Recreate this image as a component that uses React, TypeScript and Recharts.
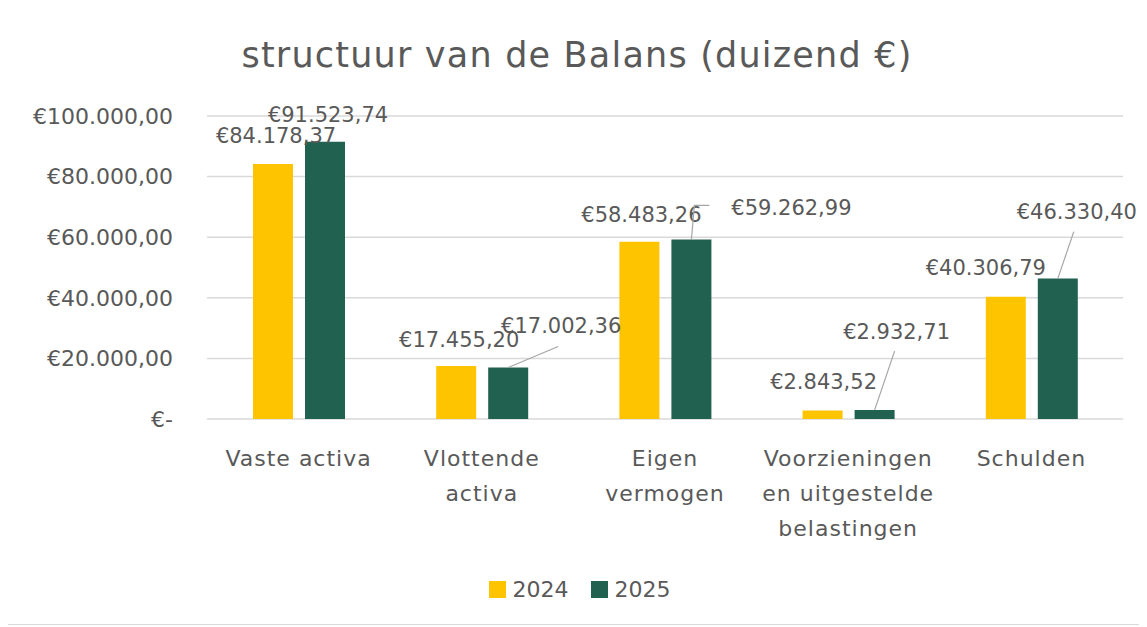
import React from "react";
import { BarChart, Bar, XAxis, YAxis, CartesianGrid, LabelList } from "recharts";

const categories: string[][] = [
  ["Vaste activa"],
  ["Vlottende", "activa"],
  ["Eigen", "vermogen"],
  ["Voorzieningen", "en uitgestelde", "belastingen"],
  ["Schulden"],
];
const values2024 = [84178.37, 17455.2, 58483.26, 2843.52, 40306.79];
const values2025 = [91523.74, 17002.36, 59262.99, 2932.71, 46330.4];
const yTicks = [0, 20000, 40000, 60000, 80000, 100000];

// label offsets relative to bar top-centre: [dx, dy, leaderEndDx, leaderEndDy, leaderHorizEnd]
const labelPos2024: number[][] = [
  [3, -28], [3, -26], [2, -27], [1, -28], [-20, -29],
];
const labelPos2025: number[][] = [
  [3, -27], [53, -41, 50, -21], [100, -31, 3, -34, 18], [22, -78, 20, -59], [19, -67, 16, -47],
];

const FONT = "'DejaVu Sans', sans-serif";
const TEXT = "#595959";
const YELLOW = "#FFC400";
const GREEN = "#216150";
const FS = 21;

const data = categories.map((c, i) => ({ name: c.join(" "), lines: c, v2024: values2024[i], v2025: values2025[i] }));

function fmt(v: number): string {
  if (v === 0) return "€-";
  const fixed = v.toFixed(2);
  const [intPart, dec] = fixed.split(".");
  const withDots = intPart.replace(/\B(?=(\d{3})+(?!\d))/g, ".");
  return "€" + withDots + "," + dec;
}

const makeLabel = (pos: number[][]) => (props: any) => {
  const { x, y, width, index, value } = props;
  const cx = Number(x) + Number(width) / 2;
  const top = Number(y);
  const p = pos[index] || [0, -28];
  return (
    <g>
      {p.length >= 4 && (
        <polyline
          points={
            `${cx},${top} ${cx + p[2]},${top + p[3]}` + (p.length >= 5 ? ` ${cx + p[4]},${top + p[3]}` : "")
          }
          fill="none"
          stroke="#A6A6A6"
          strokeWidth={1.2}
        />
      )}
      <text x={cx + p[0]} y={top + p[1]} textAnchor="middle" dominantBaseline="central" fontSize={FS} fill={TEXT} fontFamily={FONT}>
        {fmt(Number(value))}
      </text>
    </g>
  );
};

const XTick = (props: any) => {
  const { x, y, payload, index } = props;
  const lines = categories[index] || [payload.value];
  return (
    <g>
      {lines.map((l, i) => (
        <text key={i} x={x} y={y + 31 + i * 35} textAnchor="middle" dominantBaseline="central" fontSize={22} letterSpacing={1} fill={TEXT} fontFamily={FONT}>
          {l}
        </text>
      ))}
    </g>
  );
};

export default function App() {
  return (
    <div style={{ marginLeft: -1, marginTop: -3, width: 1145, height: 620, border: "1px solid #D9D9D9", boxSizing: "border-box", position: "relative", background: "#fff" }}>
      <div style={{ position: "absolute", left: 0, right: 5, top: 28, textAlign: "center", fontFamily: FONT, fontSize: 35, letterSpacing: 1.2, color: TEXT, lineHeight: "42px" }}>
        structuur van de Balans (duizend €)
      </div>
      <BarChart width={1140} height={618} data={data} margin={{ top: 110, right: 25, bottom: 175, left: 0 }} barCategoryGap={45} barGap={12} barSize={40}>
        <CartesianGrid vertical={false} stroke="#D9D9D9" strokeWidth={1.5} />
        <XAxis dataKey="name" tick={<XTick />} tickLine={false} axisLine={false} interval={0} height={30} />
        <YAxis
          domain={[0, 100000]}
          ticks={yTicks}
          width={199}
          tickFormatter={fmt}
          tickLine={false}
          axisLine={false}
          tickSize={0}
          tickMargin={34}
          tick={{ fontSize: 22, fill: TEXT, fontFamily: FONT }}
        />
        <Bar dataKey="v2024" name="2024" fill={YELLOW} isAnimationActive={false}>
          <LabelList dataKey="v2024" content={makeLabel(labelPos2024)} />
        </Bar>
        <Bar dataKey="v2025" name="2025" fill={GREEN} isAnimationActive={false}>
          <LabelList dataKey="v2025" content={makeLabel(labelPos2025)} />
        </Bar>
      </BarChart>
      <div style={{ position: "absolute", top: 571, left: 0, right: 0, display: "flex", justifyContent: "center", alignItems: "center", fontFamily: FONT, fontSize: 22, color: TEXT }}>
        <span style={{ display: "inline-block", width: 17, height: 17, background: YELLOW, marginRight: 7 }} />
        <span style={{ marginRight: 22 }}>2024</span>
        <span style={{ display: "inline-block", width: 17, height: 17, background: GREEN, marginRight: 7 }} />
        <span>2025</span>
      </div>
    </div>
  );
}
